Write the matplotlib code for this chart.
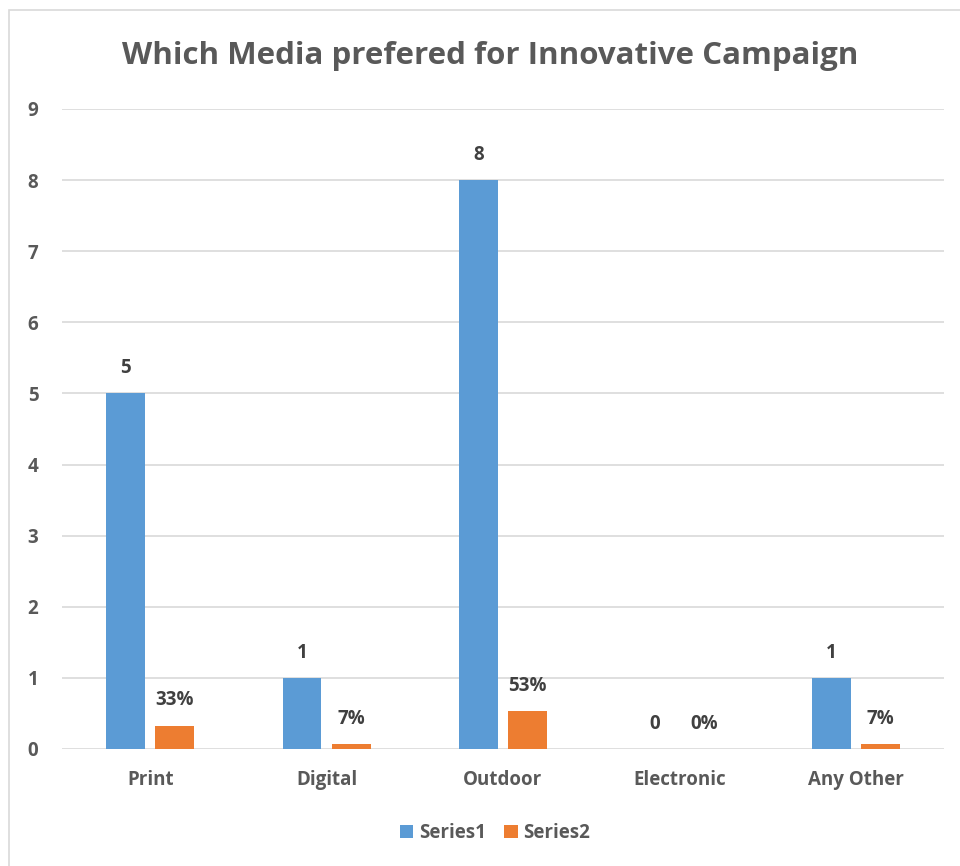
import numpy as np
import matplotlib.pyplot as plt
from matplotlib.patches import Rectangle

categories = ['Print', 'Digital', 'Outdoor', 'Electronic', 'Any Other']
series1 = [5, 1, 8, 0, 1]
series2 = [0.33, 0.07, 0.53, 0.0, 0.07]
series2_labels = ['33%', '7%', '53%', '0%', '7%']
yticks = list(range(0, 10))

blue = '#5B9BD5'
orange = '#ED7D31'
txt = '#595959'
font = 'Open Sans'

fig = plt.figure(figsize=(9.6, 8.66), dpi=100)
fig.patches.append(Rectangle((9 / 960, -0.01), 1.0, 1 - 10 / 866 + 0.01, transform=fig.transFigure,
                             fill=False, edgecolor='#D9D9D9', linewidth=1.2))
ax = fig.add_axes([62 / 960, 1 - 749 / 866, 882 / 960, 640 / 866])

x = np.arange(len(categories))
w = 0.22
gap = 0.06
b1 = ax.bar(x - (w + gap) / 2, series1, w, color=blue, label='Series1', zorder=3)
b2 = ax.bar(x + (w + gap) / 2, series2, w, color=orange, label='Series2', zorder=3)

for rect, v in zip(b1, series1):
    ax.annotate(str(v), (rect.get_x() + rect.get_width() / 2, v), xytext=(0, 11),
                textcoords='offset points', ha='center', va='bottom', fontsize=13.5,
                fontweight='bold', color='#404040', family=font)
for rect, v, lab in zip(b2, series2, series2_labels):
    ax.annotate(lab, (rect.get_x() + rect.get_width() / 2, v), xytext=(0, 11),
                textcoords='offset points', ha='center', va='bottom', fontsize=13.5,
                fontweight='bold', color='#404040', family=font)

ax.set_xlim(-0.5, len(categories) - 0.5)
ax.set_ylim(0, 9)
ax.set_yticks(yticks)
ax.set_xticks(x)
ax.set_xticklabels(categories)
ax.yaxis.grid(True, color='#D9D9D9', linewidth=1.2, zorder=0)
ax.set_axisbelow(True)
for s in ax.spines.values():
    s.set_visible(False)
ax.tick_params(axis='both', length=0, labelsize=13.5, labelcolor=txt)
ax.tick_params(axis='x', pad=15)
ax.tick_params(axis='y', pad=17)
for lab in ax.get_xticklabels() + ax.get_yticklabels():
    lab.set_fontweight('bold')
    lab.set_family(font)

fig.text(490 / 960, 1 - 56 / 866, 'Which Media prefered for Innovative Campaign', ha='center', va='center',
         fontsize=22.5, fontweight='bold', color=txt, family=font)

leg = fig.legend(handles=[b1, b2], loc='center', bbox_to_anchor=(495 / 960, 1 - 833 / 866), ncol=2,
                 frameon=False, handlelength=0.7, handleheight=0.7, handletextpad=0.3,
                 columnspacing=1.0, prop={'family': font, 'weight': 'bold', 'size': 13.5})
for t in leg.get_texts():
    t.set_color(txt)

fig.savefig('out.png', dpi=100)
